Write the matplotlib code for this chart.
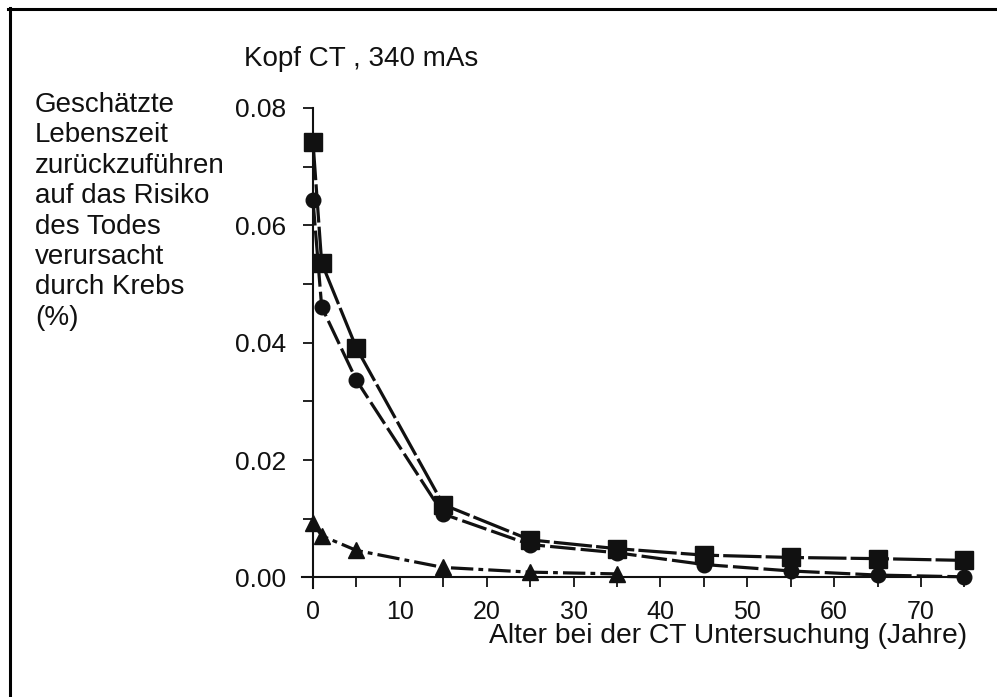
import matplotlib
matplotlib.use("Agg")
import matplotlib.pyplot as plt
from matplotlib.lines import Line2D
from matplotlib.ticker import MultipleLocator

plt.rcParams['font.family'] = ['Liberation Sans', 'DejaVu Sans']

# ages at CT examination (years)
age_sq = [0, 1, 5, 15, 25, 35, 45, 55, 65, 75]
risk_sq = [0.0742, 0.0536, 0.0391, 0.0124, 0.0064, 0.0049, 0.0038, 0.0034, 0.0032, 0.0029]

age_ci = [0, 1, 5, 15, 25, 35, 45, 55, 65, 75]
risk_ci = [0.0643, 0.0461, 0.0336, 0.0108, 0.0056, 0.0042, 0.0022, 0.0011, 0.0004, 0.0001]

age_tr = [0, 1, 5, 15, 25, 35]
risk_tr = [0.0093, 0.0071, 0.0046, 0.0017, 0.0009, 0.0006]

x_ticks = [0, 10, 20, 30, 40, 50, 60, 70]
y_ticks = [0.00, 0.02, 0.04, 0.06, 0.08]

ink = "#111111"

fig = plt.figure(figsize=(9.97, 6.97), dpi=100)
ax = fig.add_axes([0.3026, 0.1564, 0.670, 0.693])

ax.plot(age_sq, risk_sq, color=ink, lw=2.3, ls=(0, (12, 1.3)),
        marker='s', ms=13, mfc=ink, mec=ink, clip_on=False, zorder=3)
ax.plot(age_ci, risk_ci, color=ink, lw=2.3, ls=(0, (8, 1.6)),
        marker='o', ms=10.5, mfc=ink, mec=ink, clip_on=False, zorder=3)
ax.plot(age_tr, risk_tr, color=ink, lw=2.3, ls=(0, (7, 1.6, 1.5, 1.6)),
        marker='^', ms=11, mfc=ink, mec=ink, clip_on=False, zorder=3)

ax.set_xlim(-1.3, 75.6)
ax.set_ylim(-0.0018, 0.0805)

for side in ['top', 'right']:
    ax.spines[side].set_visible(False)
ax.spines['left'].set_position(('data', 0))
ax.spines['bottom'].set_position(('data', 0))
ax.spines['left'].set_bounds(-0.0018, 0.08)
ax.spines['bottom'].set_bounds(-1.3, 75.6)
for side in ['left', 'bottom']:
    ax.spines[side].set_linewidth(1.5)
    ax.spines[side].set_color(ink)

ax.set_xticks(x_ticks)
ax.set_xticklabels([str(v) for v in x_ticks])
ax.xaxis.set_minor_locator(MultipleLocator(5))
ax.set_yticks(y_ticks)
ax.set_yticklabels([f"{v:.2f}" for v in y_ticks])
ax.yaxis.set_minor_locator(MultipleLocator(0.01))

ax.tick_params(axis='both', which='both', direction='out', length=7.5,
               width=1.3, color=ink)
ax.tick_params(axis='x', which='major', pad=9, labelsize=18, labelcolor=ink)
ax.tick_params(axis='y', which='major', pad=12, labelsize=19, labelcolor=ink)

fig.text(0.9705, 0.0775, "Alter bei der CT Untersuchung (Jahre)", ha='right',
         va='baseline', fontsize=20.3, color=ink)
fig.text(0.245, 0.905, "Kopf CT , 340 mAs", ha='left', va='baseline',
         fontsize=20, color=ink)
fig.text(0.035, 0.868, "Geschätzte\nLebenszeit\nzurückzuführen\nauf das Risiko\n"
         "des Todes\nverursacht\ndurch Krebs\n(%)", ha='left', va='top',
         fontsize=20, color=ink, linespacing=1.22)

# frame lines along top and left edges
fig.add_artist(Line2D([8 / 997, 1], [1 - 9 / 697, 1 - 9 / 697],
                      transform=fig.transFigure, color='black', lw=2.2))
fig.add_artist(Line2D([9.5 / 997, 9.5 / 997], [0, 1 - 8 / 697],
                      transform=fig.transFigure, color='black', lw=2.2))

fig.savefig("out.png", dpi=100)
